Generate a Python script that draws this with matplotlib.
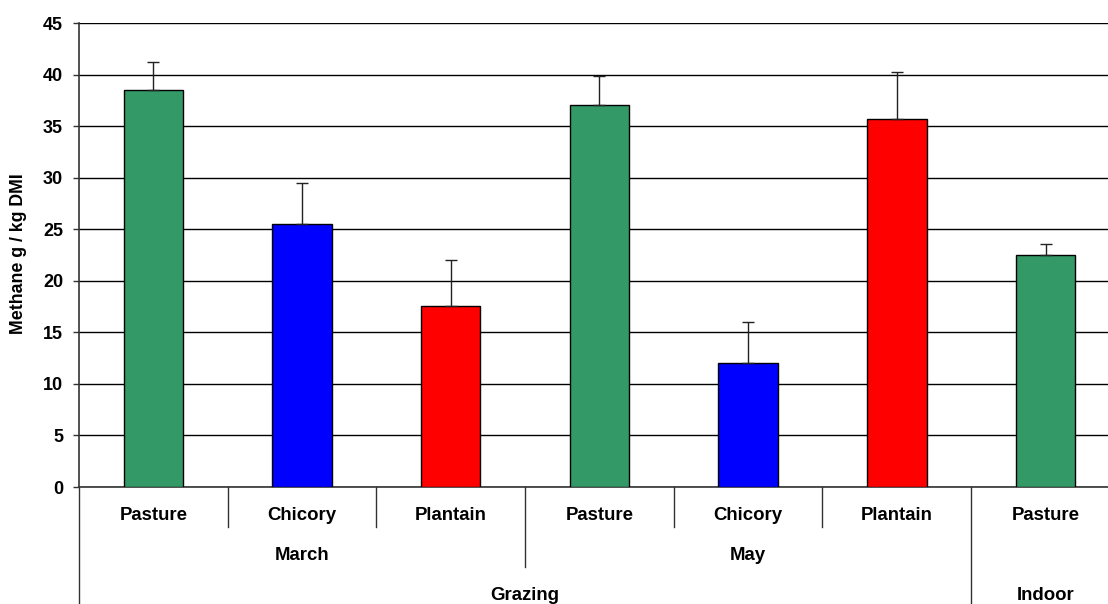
import matplotlib
matplotlib.use("Agg")
import matplotlib.pyplot as plt
from matplotlib.lines import Line2D
import matplotlib.transforms as mtransforms

# ---- data ----
season_group = ["Grazing", "Grazing", "Grazing", "Grazing", "Grazing", "Grazing", "Indoor"]
month = ["March", "March", "March", "May", "May", "May", ""]
forage = ["Pasture", "Chicory", "Plantain", "Pasture", "Chicory", "Plantain", "Pasture"]
methane = [38.5, 25.5, 17.6, 37.0, 12.0, 35.7, 22.5]
methane_se = [2.7, 4.0, 4.4, 2.9, 4.0, 4.5, 1.1]
y_ticks = [0, 5, 10, 15, 20, 25, 30, 35, 40, 45]
y_label = "Methane g / kg DMI"

forage_colors = {"Pasture": "#339966", "Chicory": "#0000FF", "Plantain": "#FF0000"}

plt.rcParams["font.family"] = ["Liberation Sans", "DejaVu Sans"]
plt.rcParams["font.weight"] = "bold"

W, H = 1108, 604
fig = plt.figure(figsize=(W / 100, H / 100), dpi=100)
ax_left, ax_bottom_px, ax_top_px = 79, 487, 23
n = len(forage)
cat_w = 148.7
ax_h_px = ax_bottom_px - ax_top_px
ax = fig.add_axes([ax_left / W, (H - ax_bottom_px) / H, n * cat_w / W, ax_h_px / H])

x = list(range(n))
ax.bar(x, methane, width=0.4, color=[forage_colors[f] for f in forage],
       edgecolor="black", linewidth=1.0, zorder=3)
ax.errorbar(x, methane, yerr=[[0] * n, methane_se], fmt="none",
            ecolor="#222222", elinewidth=1.0, capsize=4.5, capthick=1.0, zorder=4)

ax.set_xlim(-0.5, n - 0.5)
ax.set_ylim(0, 45)
ax.set_yticks(y_ticks)
ax.set_xticks([])
ax.yaxis.grid(True, color="black", linewidth=1.0, zorder=0)
ax.set_axisbelow(True)
for s in ("top", "right"):
    ax.spines[s].set_visible(False)
ax.spines["left"].set_color("#333333")
ax.spines["bottom"].set_color("#333333")
ax.spines["left"].set_linewidth(1.2)
ax.spines["bottom"].set_linewidth(1.2)
ax.tick_params(axis="y", length=4.5, width=1.0, color="#333333", pad=7,
               labelsize=13)
for lab in ax.get_yticklabels():
    lab.set_fontweight("bold")

fig.text(19 / W, (H - 254) / H, y_label, rotation=90, ha="center", va="center",
         fontsize=12.8, fontweight="bold")

# multi-level category axis below the plot
trans = mtransforms.blended_transform_factory(ax.transData, ax.transAxes)


def below(px):
    return -px / ax_h_px


levels = [forage, month, season_group]
label_y = [29, 69, 108]      # pixel distance of each row's label below the axis
divider_end = [40, 80, 125]  # pixel depth of the divider lines for each row


def boundary_depth(i):
    # deepest row at which categories i-1 and i differ
    if i <= 0 or i >= n:
        return 2
    for lv in (2, 1, 0):
        if levels[lv][i - 1] != levels[lv][i]:
            return lv
    return 0


for i in range(n + 1):
    depth = boundary_depth(i)
    line = Line2D([i - 0.5, i - 0.5], [0, below(divider_end[depth])],
                  transform=trans, color="#333333", linewidth=1.0, clip_on=False)
    ax.add_line(line)

for lv, row in enumerate(levels):
    start = 0
    for i in range(1, n + 1):
        if i == n or row[i] != row[start] or (lv < 2 and levels[lv + 1][i] != levels[lv + 1][start]) or lv == 0:
            if row[start]:
                center = (start + i - 1) / 2
                ax.text(center, below(label_y[lv]), row[start], transform=trans,
                        ha="center", va="center", fontsize=13.4, fontweight="bold",
                        clip_on=False)
            start = i

fig.savefig("out.png", dpi=100)
